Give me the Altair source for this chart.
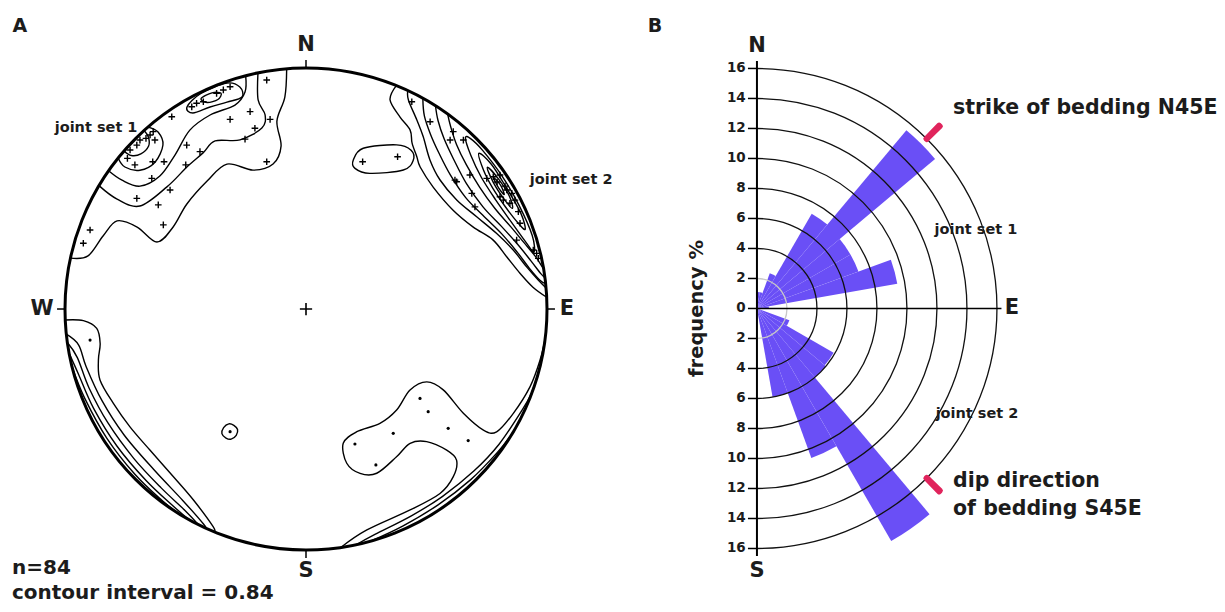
import altair as alt
import numpy as np
import pandas as pd

FONT = "DejaVu Sans"
INK = "#1c1c1c"

# ---------------- Panel B : rose diagram data ----------------
bin_start = list(range(0, 180, 10))          # azimuth of bin start (deg)
bin_freq = [1.1, 1.1, 2.5, 7.3, 15.5, 7.2, 7.2, 9.5, 0.8,
            0.0, 0.0, 2.3, 5.9, 6.0, 17.9, 10.6, 6.0, 0.0]   # frequency %
ring_radii = [2, 4, 6, 8, 10, 12, 14, 16]
freq_ticks = list(range(-16, 17, 2))
bedding_az = [45, 135]

# ---------------- Panel A : stereonet data (azimuth deg, % of net radius) ----------------
set1_outer = [(282.2, 100), (283.7, 93.1), (289.8, 89.5), (295.0, 86.5), (295.9, 77.9), (294.2, 67.8),
              (301.7, 64.8), (311.4, 65.9), (322.3, 67.1), (331.4, 68.5), (339.1, 61.7), (347.2, 61.7),
              (351.3, 68.4), (351.2, 78.9), (354.3, 88.4), (355.4, 100)]
set1_mid = [(300.8, 100), (300.2, 90.7), (301.8, 81.1), (311.3, 76.8), (320.0, 76.9), (326.6, 77.6),
            (331.6, 79.3), (338.7, 75.3), (346.3, 77.3), (348.1, 82.3), (347.1, 89.0), (348.5, 100)]
set1_inner = [(305, 100), (305.0, 93.2), (306.5, 85.7), (312.3, 82.0), (319.6, 83.9), (327.0, 88.5),
              (333.7, 89.8), (340.8, 89.6), (344.3, 93.5), (345.5, 100)]
set1_peak_a = [(308.8, 100), (308.1, 95.5), (309.9, 89.8), (314.2, 87.4), (318.9, 90.3), (320.1, 95.7), (319.0, 100)]
set1_peak_b = [(311, 100), (311.3, 96.5), (313.2, 94.0), (316.0, 94.0), (317.5, 96.8), (317.8, 100)]
set1_top_a = [(329.5, 97.3), (334, 99.5), (340.7, 99.3), (343.4, 96.1), (343.2, 91.9), (339.1, 91.9),
              (334.6, 92.8), (330, 93.9)]
set1_top_b = [(333.5, 97.6), (336.5, 97.8), (338.5, 96.2), (337.2, 94.3), (334.4, 95.0)]

set2_c1 = [(22, 100), (21.9, 93.5), (26.1, 88.7), (30.2, 85.9), (32.6, 81.7), (36.1, 78.1), (38.8, 75.6),
           (46.2, 73.1), (56, 73.5), (63.8, 77.2), (69.7, 82.7), (75.5, 86.1), (80.5, 90), (84.5, 94.6), (87.2, 100)]
set2_c2 = [(25, 100), (26.1, 96.6), (30.4, 90.9), (34.2, 86.5), (39.8, 80.4), (46.1, 77.2), (54.1, 77.2),
           (61.6, 80.5), (68.4, 85.1), (74.1, 89.4), (79.2, 93.2), (82.9, 97.1), (85, 100)]
set2_c3 = [(29, 100), (31.5, 94), (35.5, 89), (40.5, 85), (47, 81.8), (55, 80.8), (62, 83), (69, 87),
           (75, 90.8), (80, 94.5), (83, 97.8), (84, 100)]
set2_c4 = [(32.5, 100), (35, 95.5), (39, 91), (44.5, 87.3), (52, 84.5), (60, 84.8), (67, 88), (73, 91.8),
           (78, 95.5), (81.5, 98.6), (82.5, 100)]
set2_c5 = [(36, 100), (38.5, 96.5), (42.5, 92.5), (48, 89.5), (55, 88), (62, 88.8), (68, 91.5), (73, 94.5),
           (77, 97.6), (79.5, 99.3), (80.5, 100)]
set2_c6 = [(43, 97), (47, 93.5), (53, 91), (60, 90.8), (67, 92.5), (73, 95.3), (76, 97.5), (72, 98.7),
           (64, 98.3), (56, 98.3), (48, 98.5), (44, 98.3)]
set2_c7 = [(48, 96.5), (52, 93.5), (57, 92.3), (63, 93), (68, 95), (70, 96.8), (66, 97.6), (59, 97.2), (52, 97.6)]
set2_c8 = [(52, 95.5), (56, 93.8), (61, 94), (64, 95.3), (61, 96.5), (56, 96.4)]
set2_c9 = [(55, 95), (58, 94.4), (60, 95), (57.5, 95.7)]
set2_side = [(17.6, 64.9), (19.6, 70.8), (28.9, 77.8), (33.5, 79.0), (35.8, 76.0), (35.0, 70.4),
             (25.2, 62.2), (19.2, 61.8)]

west_c1 = [(267.4, 100), (267, 92.5), (264.7, 87.2), (260.5, 86.6), (256.2, 88.7), (251, 90.4), (243.9, 89),
           (236.2, 87.9), (227.9, 87.3), (218.4, 88.7), (210.5, 92), (203.1, 98.2), (202.4, 100)]
west_c2 = [(264, 100), (261, 95.5), (255.3, 94.3), (245.8, 92.8), (235.3, 91.8), (223.4, 91.8), (212.7, 94.5),
           (205.5, 98.8), (204.5, 100)]
west_c3 = [(262, 100), (258, 97), (250, 95.8), (240, 94.8), (229, 94.6), (219, 95.5), (211, 97.5), (206.5, 100)]
west_c4 = [(259.5, 100), (254, 98.2), (245, 97.3), (234, 96.9), (223, 97.3), (214, 98.6), (209, 100)]
west_c5 = [(256, 100), (248, 99), (237, 98.5), (226, 98.7), (217, 99.4), (212, 100)]
isolated = [(208.9, 59.9), (209.9, 62.3), (211.8, 63.0), (214.0, 62.4), (214.8, 59.9), (213.9, 57.4),
            (211.8, 56.8), (209.6, 57.5)]

se_c1 = [(171.7, 100), (164.6, 95.1), (152.6, 93.9), (144, 94.6), (138.7, 92.6), (135.1, 88.5), (135.1, 82.7),
         (137.7, 74.4), (142.2, 70.5), (148.5, 71.9), (156.7, 74.2), (161.8, 71.8), (165.2, 66.2), (164.5, 57.8),
         (157.5, 55.1), (147.1, 56.5), (138.1, 56.3), (127.9, 54.7), (121.1, 58.5), (120.5, 66.1), (123.5, 78.3),
         (124.3, 89.1), (122.8, 94.1), (116.7, 96.3), (109.1, 98.4), (102.3, 99.4), (97, 100)]
se_c2 = [(168, 100), (163, 97.8), (153, 96.3), (144, 96.2), (134, 96.8), (125, 97.8), (115, 99), (110, 100)]
se_c3 = [(164.5, 100), (156, 98.6), (146, 98), (136, 98.4), (127, 99.2), (121, 100)]

# poles (x, y in % of net radius)
plus_poles = [(-16.3, 95.0), (-23.2, 81.9), (-31.5, 78.7), (-14.9, 78.7), (-21.2, 75.0), (-25.3, 70.5),
              (-16.3, 61.1), (-49.5, 68.0), (-44.0, 65.3), (-49.9, 59.8), (-58.9, 61.1), (-63.6, 61.1),
              (-71.0, 59.8), (-74.1, 62.5), (-73.0, 66.0), (-70.2, 68.0), (-68.9, 70.1), (-66.4, 70.8),
              (-64.7, 72.2), (-63.4, 73.6), (-62.7, 70.1), (-55.7, 79.8), (-64.0, 54.2), (-56.4, 49.4),
              (-70.2, 45.9), (-61.3, 43.2), (-59.2, 34.9), (-89.6, 32.8), (-92.4, 27.3), (-47.4, 83.9),
              (-45.4, 85.4), (-42.6, 86.0), (-37.1, 89.5), (-34.3, 90.9), (-31.5, 92.2),
              (43.9, 86.0), (51.5, 77.7), (61.1, 73.6), (65.3, 70.1), (59.8, 70.1), (68.0, 55.6),
              (62.5, 52.8), (68.8, 48.0), (75.0, 54.2), (77.7, 54.9), (80.5, 55.6), (83.3, 49.4),
              (85.4, 48.0), (86.7, 45.2), (84.6, 43.9), (81.9, 45.2), (80.5, 46.6), (88.1, 40.4),
              (88.8, 35.6), (87.4, 28.6), (94.3, 24.5), (95.7, 23.1), (96.4, 21.0), (70.1, 42.4),
              (61.8, 53.5), (23.5, 61.1), (38.0, 63.2), (79.3, 52.7), (82.6, 51.0)]
dot_poles = [(-89.6, -12.9), (-31.5, -50.9), (47.3, -37.1), (50.7, -42.6), (59.0, -49.5), (67.3, -54.6),
             (36.2, -51.6), (20.3, -56.0), (29.0, -64.7)]

# ---------------- scales ----------------
xA = alt.Scale(domain=[-123.65, 378.0], nice=False, zero=False)
yA = alt.Scale(domain=[-122.4, 124.9], nice=False, zero=False)
xB = alt.Scale(domain=[-49.93, 30.67], nice=False, zero=False)
yB = alt.Scale(domain=[-19.7, 20.03], nice=False, zero=False)
thetaS = alt.Scale(domain=[0, 360], range=[0, 2 * np.pi])
radS = alt.Scale(type="linear", domain=[0, 16], range=[0, 240], zero=True, nice=False)


def XA(f="x"):
    return alt.X(f"{f}:Q", scale=xA, axis=None)


def YA(f="y"):
    return alt.Y(f"{f}:Q", scale=yA, axis=None)


def XB(f="x"):
    return alt.X(f"{f}:Q", scale=xB, axis=None)


def YB(f="y"):
    return alt.Y(f"{f}:Q", scale=yB, axis=None)


def polar_df(lines):
    rows = []
    for name, pts in lines.items():
        for i, (az, r) in enumerate(pts):
            a = np.radians(az)
            rows.append({"cid": name, "i": i, "x": r * np.sin(a), "y": r * np.cos(a)})
    return pd.DataFrame(rows)


open_lines = {"s1o": set1_outer, "s1m": set1_mid, "s1i": set1_inner, "s1pa": set1_peak_a, "s1pb": set1_peak_b,
              "s2c1": set2_c1, "s2c2": set2_c2, "s2c3": set2_c3, "s2c4": set2_c4, "s2c5": set2_c5,
              "w1": west_c1, "w2": west_c2, "w3": west_c3, "w4": west_c4, "w5": west_c5,
              "se1": se_c1, "se2": se_c2, "se3": se_c3}
closed_lines = {"s1ta": set1_top_a, "s1tb": set1_top_b, "s2c6": set2_c6, "s2c7": set2_c7, "s2c8": set2_c8,
                "s2c9": set2_c9, "s2side": set2_side, "iso": isolated}

open_df = polar_df(open_lines)
closed_df = polar_df(closed_lines)
plus_df = pd.DataFrame(plus_poles, columns=["x", "y"])
dot_df = pd.DataFrame(dot_poles, columns=["x", "y"])
center_df = pd.DataFrame({"x": [0.0], "y": [0.0]})

# ---------------- Panel A layers ----------------
net_circle = alt.Chart(center_df).mark_arc(filled=False, stroke="black", strokeWidth=3).encode(
    x=XA(), y=YA(), theta=alt.value(0), theta2=alt.value(2 * np.pi),
    radius=alt.value(241), radius2=alt.value(241))

contours_open = alt.Chart(open_df).mark_line(interpolate="cardinal", color="black", strokeWidth=1.4).encode(
    x=XA(), y=YA(), detail="cid:N", order="i:Q")
contours_closed = alt.Chart(closed_df).mark_line(interpolate="cardinal-closed", color="black",
                                                 strokeWidth=1.4).encode(
    x=XA(), y=YA(), detail="cid:N", order="i:Q")

PLUS = "M-1,0L1,0M0,-1L0,1"
plus_marks = alt.Chart(plus_df).mark_point(shape=PLUS, filled=False, color="black", strokeWidth=1.4,
                                           size=44, opacity=1).encode(x=XA(), y=YA())
dot_marks = alt.Chart(dot_df).mark_point(shape="circle", filled=True, color="black", size=10,
                                         opacity=1).encode(x=XA(), y=YA())
center_mark = alt.Chart(center_df).mark_point(shape=PLUS, filled=False, color="black", strokeWidth=1.6,
                                              size=150, opacity=1).encode(x=XA(), y=YA())

tickA_df = pd.DataFrame({"x": [0, 0, -100, 100], "y": [100, -100, 0, 0],
                         "x2": [0, 0, -103.3, 103.3], "y2": [103.3, -103.3, 0, 0]})
ticksA = alt.Chart(tickA_df).mark_rule(color="black", strokeWidth=1.5).encode(
    x=XA(), y=YA(), x2="x2:Q", y2="y2:Q")

dirA_df = pd.DataFrame({"x": [0, 0, -109.5, 108.3], "y": [109.5, -108.7, 0, 0], "label": ["N", "S", "W", "E"]})
panel_df = pd.DataFrame({"x": [-118.7], "y": [117.4], "label": ["A"]})
jointA_df = pd.DataFrame({"x": [-87.1, 110.0], "y": [75.1, 53.5], "label": ["joint set 1", "joint set 2"]})
infoA_df = pd.DataFrame({"x": [-122.0, -122.0], "y": [-107.3, -117.9], "label": ["n=84", "contour interval = 0.84"]})


def textA(df, **kw):
    return alt.Chart(df).mark_text(font=FONT, color=INK, **kw).encode(x=XA(), y=YA(), text="label:N")


layerA = alt.layer(
    contours_open, contours_closed, net_circle, plus_marks, dot_marks, center_mark, ticksA,
    textA(dirA_df, fontSize=21, fontWeight="bold", align="center", baseline="middle"),
    textA(panel_df, fontSize=19, fontWeight="bold", align="center", baseline="middle"),
    textA(jointA_df, fontSize=14.5, fontWeight="bold", align="center", baseline="middle"),
    textA(infoA_df, fontSize=20, fontWeight="bold", align="left", baseline="middle"),
)

# ---------------- Panel B layers ----------------
bars_df = pd.DataFrame({"t0": bin_start, "t1": [b + 10 for b in bin_start], "r1": bin_freq,
                        "r0": 0.0, "x": 0.0, "y": 0.0})
bars = alt.Chart(bars_df).mark_arc(color="#6A4FF6").encode(
    x=XB(), y=YB(),
    theta=alt.Theta("t0:Q", scale=thetaS, stack=None), theta2="t1:Q",
    radius=alt.Radius("r1:Q", scale=radS, stack=None), radius2="r0:Q")

rings_df = pd.DataFrame({"r": ring_radii, "t0": 0, "t1": 180, "x": 0.0, "y": 0.0,
                         "col": ["#c8c8c8" if r == 2 else "#111111" for r in ring_radii]})
rings = alt.Chart(rings_df).mark_arc(filled=False, strokeWidth=1.3).encode(
    x=XB(), y=YB(),
    theta=alt.Theta("t0:Q", scale=thetaS, stack=None), theta2="t1:Q",
    radius=alt.Radius("r:Q", scale=radS, stack=None), radius2="r:Q",
    stroke=alt.Stroke("col:N", scale=None))

mark_df = pd.DataFrame({"t0": [a - 0.75 for a in bedding_az], "t1": [a + 0.75 for a in bedding_az],
                        "r0": 15.8, "r1": 17.4, "x": 0.0, "y": 0.0})
markers = alt.Chart(mark_df).mark_arc(color="#E0245C", cornerRadius=2.5).encode(
    x=XB(), y=YB(),
    theta=alt.Theta("t0:Q", scale=thetaS, stack=None), theta2="t1:Q",
    radius=alt.Radius("r1:Q", scale=radS, stack=None), radius2="r0:Q")

vline_df = pd.DataFrame({"x": [0.0], "y": [-16.5], "y2": [16.5]})
vline = alt.Chart(vline_df).mark_rule(color="black", strokeWidth=2).encode(x=XB(), y=YB(), y2="y2:Q")
hline_df = pd.DataFrame({"x": [0.0], "x2": [16.3], "y": [0.0]})
hline = alt.Chart(hline_df).mark_rule(color="black", strokeWidth=1.6).encode(x=XB(), x2="x2:Q", y=YB())

# frequency axis (both halves read outward from the centre)
ftick_df = pd.DataFrame({"y": freq_ticks, "x": -0.6, "x2": 0.0,
                         "label": [str(abs(v)) for v in freq_ticks], "xl": -0.75})
fticks = alt.Chart(ftick_df).mark_rule(color="black", strokeWidth=1.5).encode(x=XB(), x2="x2:Q", y=YB())
flabels = alt.Chart(ftick_df).mark_text(font=FONT, color=INK, fontSize=13.5, fontWeight="bold",
                                        align="right", baseline="middle").encode(
    x=XB("xl"), y=YB(), text="label:N")

dirB_df = pd.DataFrame({"x": [0, 0, 17.0], "y": [17.47, -17.53, 0], "label": ["N", "S", "E"]})
panelB_df = pd.DataFrame({"x": [-6.8], "y": [18.83], "label": ["B"]})
jointB_df = pd.DataFrame({"x": [14.6, 14.67], "y": [5.23, -7.03], "label": ["joint set 1", "joint set 2"]})
beddingB_df = pd.DataFrame({"x": [13.07, 13.07, 13.07], "y": [13.37, -11.5, -13.37],
                            "label": ["strike of bedding N45E", "dip direction", "of bedding S45E"]})
ytitle_df = pd.DataFrame({"x": [-4.0], "y": [0.0], "label": ["frequency %"]})


def textB(df, **kw):
    return alt.Chart(df).mark_text(font=FONT, color=INK, **kw).encode(x=XB(), y=YB(), text="label:N")


layerB = alt.layer(
    bars, rings, markers, vline, hline, fticks, flabels,
    textB(dirB_df, fontSize=21, fontWeight="bold", align="center", baseline="middle"),
    textB(panelB_df, fontSize=19, fontWeight="bold", align="center", baseline="middle"),
    textB(jointB_df, fontSize=14.5, fontWeight="bold", align="center", baseline="middle"),
    textB(beddingB_df, fontSize=20.5, fontWeight="bold", align="left", baseline="middle"),
    textB(ytitle_df, fontSize=19.5, fontWeight="bold", align="center", baseline="middle", angle=270),
)

chart = alt.layer(layerA, layerB).resolve_scale(x="independent", y="independent").properties(
    width=1209, height=596, autosize=alt.AutoSizeParams(type="none"), padding=0,
    background="white"
).configure_view(stroke=None)

chart.save("out.html", embed_options={"renderer": "svg", "actions": False})
